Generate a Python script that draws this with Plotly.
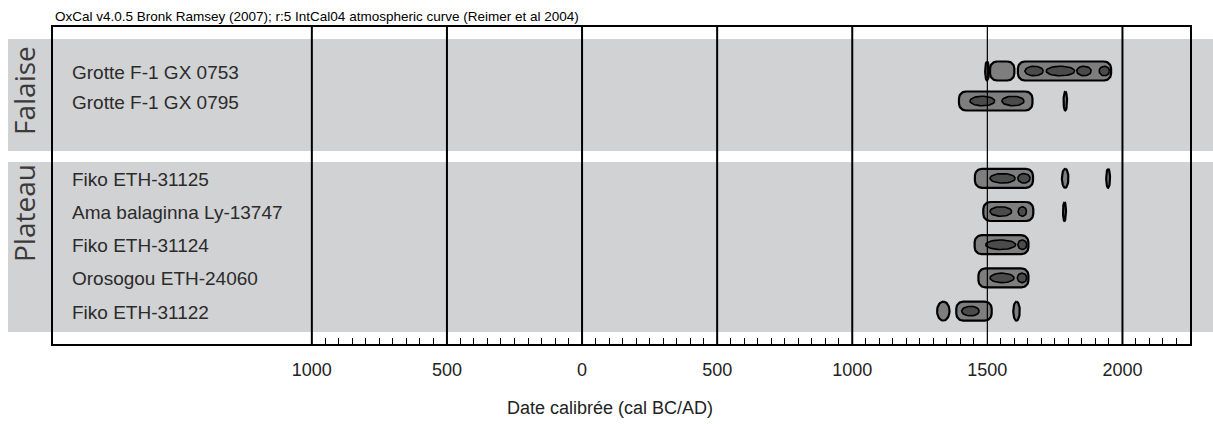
import numpy as np
import plotly.graph_objects as go

# --- data ---------------------------------------------------------------
samples = ["Grotte F-1 GX 0753", "Grotte F-1 GX 0795",
           "Fiko ETH-31125", "Ama balaginna Ly-13747", "Fiko ETH-31124",
           "Orosogou ETH-24060", "Fiko ETH-31122"]
groups = ["Falaise", "Falaise",
          "Plateau", "Plateau", "Plateau", "Plateau", "Plateau"]

# 95.4% ranges (cal BC/AD, negative = BC)
ranges_95 = [
    [(1492, 1506), (1510, 1600), (1613, 1958)],
    [(1395, 1667), (1782, 1795)],
    [(1454, 1669), (1776, 1800), (1940, 1954)],
    [(1485, 1670), (1780, 1791)],
    [(1453, 1652)],
    [(1467, 1652)],
    [(1314, 1360), (1385, 1516), (1596, 1620)],
]
# 68.2% ranges
ranges_68 = [
    [(1639, 1707), (1718, 1823), (1831, 1884), (1914, 1952)],
    [(1436, 1527), (1554, 1636)],
    [(1510, 1603), (1613, 1658)],
    [(1510, 1590), (1614, 1645)],
    [(1494, 1605), (1613, 1646)],
    [(1510, 1599), (1611, 1646)],
    [(1405, 1470)],
]

grid_years = [-1000, -500, 0, 500, 1000, 1500, 2000]
grid_labels = ["1000", "500", "0", "500", "1000", "1500", "2000"]

# --- page geometry (pixels) -------------------------------------------
W, H = 1213, 424
plot_l, plot_r, plot_t, plot_b = 53, 1190, 27, 344
margin = dict(l=plot_l, t=plot_t, r=W - plot_r, b=H - plot_b)
x_min, x_max = -1958, 2250
plot_w = plot_r - plot_l
plot_h = plot_b - plot_t
k = plot_w / (x_max - x_min)          # px per year

group_first = {"Falaise": 71, "Plateau": 178.3}
group_step = {"Falaise": 30, "Plateau": 33.2}
group_band = {"Falaise": (39, 151), "Plateau": (162, 332)}
group_label_y = {"Falaise": 91, "Plateau": 213}


def py_to_paper(py):
    return (plot_b - py) / plot_h


def px_to_paper(px):
    return (px - plot_l) / plot_w


row_y = []
seen = {}
for g in groups:
    i = seen.get(g, 0)
    row_y.append(group_first[g] + i * group_step[g])
    seen[g] = i + 1


def rounded_box(x0, x1, yc, h=19, r=7, n=12):
    half_px = (x1 - x0) * k / 2
    if half_px < r:
        rx_px, ry = half_px, h / 2
    else:
        rx_px, ry = r, r
    rx = rx_px / k
    xs, ys = [], []
    corners = [(x1 - rx, yc - h / 2 + ry, -90), (x1 - rx, yc + h / 2 - ry, 0),
               (x0 + rx, yc + h / 2 - ry, 90), (x0 + rx, yc - h / 2 + ry, 180)]
    for cx, cy, a0 in corners:
        t = np.deg2rad(np.linspace(a0, a0 + 90, n))
        xs += list(cx + rx * np.cos(t))
        ys += list(cy + ry * np.sin(t))
    xs.append(xs[0]); ys.append(ys[0])
    return xs, ys


def ellipse(x0, x1, yc, h=9.5, n=40):
    t = np.linspace(0, 2 * np.pi, n)
    cx, rx = (x0 + x1) / 2, (x1 - x0) / 2
    return list(cx + rx * np.cos(t)), list(yc + h / 2 * np.sin(t))


ox, oy, ix, iy = [], [], [], []
for y, r95, r68 in zip(row_y, ranges_95, ranges_68):
    for a, b in r95:
        xs, ys = rounded_box(a, b, y)
        ox += xs + [None]; oy += ys + [None]
    for a, b in r68:
        xs, ys = ellipse(a, b, y)
        ix += xs + [None]; iy += ys + [None]

fig = go.Figure()
fig.add_trace(go.Scatter(x=ox, y=oy, mode="lines", fill="toself",
                         fillcolor="#7e7e7e", line=dict(color="black", width=2.2),
                         hoverinfo="skip"))
fig.add_trace(go.Scatter(x=ix, y=iy, mode="lines", fill="toself",
                         fillcolor="#4b4b4b", line=dict(color="black", width=1.6),
                         hoverinfo="skip"))

shapes = []
for g, (b0, b1) in group_band.items():
    shapes.append(dict(type="rect", xref="paper", yref="paper",
                       x0=px_to_paper(8), x1=px_to_paper(W),
                       y0=py_to_paper(b1), y1=py_to_paper(b0),
                       fillcolor="#d1d2d4", line=dict(width=0), layer="below"))
for yr in grid_years:
    shapes.append(dict(type="line", xref="x", yref="paper", x0=yr, x1=yr,
                       y0=0, y1=1, layer="above",
                       line=dict(color="black", width=1.2 if yr == 1500 else 2)))

annotations = []
for name, y in zip(samples, row_y):
    annotations.append(dict(x=px_to_paper(70), xref="paper", y=y + 1, yref="y",
                            text=name, showarrow=False, xanchor="left",
                            yanchor="middle",
                            font=dict(family="Liberation Sans, Arial", size=19,
                                      color="#2b2b2b")))
for g, y in group_label_y.items():
    annotations.append(dict(x=px_to_paper(24), xref="paper", y=py_to_paper(y),
                            yref="paper", text=g, showarrow=False, textangle=-90,
                            xanchor="center", yanchor="middle",
                            font=dict(family="Open Sans", size=28, color="#3a3a3a")))
annotations.append(dict(x=0, xref="paper", y=py_to_paper(17), yref="paper",
                        text="OxCal v4.0.5 Bronk Ramsey (2007); r:5 IntCal04 "
                             "atmospheric curve (Reimer et al 2004)",
                        showarrow=False, xanchor="left", yanchor="middle",
                        font=dict(family="Liberation Sans, Arial", size=13.5,
                                  color="black")))
annotations.append(dict(x=px_to_paper(610), xref="paper", y=py_to_paper(408),
                        yref="paper", text="Date calibrée (cal BC/AD)",
                        showarrow=False, xanchor="center", yanchor="middle",
                        font=dict(family="Liberation Sans, Arial", size=18,
                                  color="#222")))

minor_vals = [v for v in range(-1000, x_max + 1, 50) if v not in grid_years]

fig.update_layout(
    width=W, height=H, margin=margin, showlegend=False,
    plot_bgcolor="white", paper_bgcolor="white",
    shapes=shapes, annotations=annotations,
    xaxis=dict(range=[x_min, x_max], showgrid=False, zeroline=False,
               showline=True, mirror=True, linecolor="black", linewidth=2,
               tickmode="array", tickvals=grid_years, ticktext=grid_labels,
               ticks="", ticklabelstandoff=8,
               tickfont=dict(family="Liberation Sans, Arial", size=18,
                             color="#222"),
               minor=dict(tickmode="array", tickvals=minor_vals, ticks="inside",
                          ticklen=6, tickwidth=1.3, tickcolor="black")),
    yaxis=dict(range=[plot_b, plot_t], showgrid=False, zeroline=False,
               showline=True, mirror=True, linecolor="black", linewidth=2,
               showticklabels=False, ticks=""),
)

# the page body has an 8px default margin; drop it so pixels line up
fig.write_html("out.html", config={"displayModeBar": False},
               post_script="document.body.style.margin = '0';")
